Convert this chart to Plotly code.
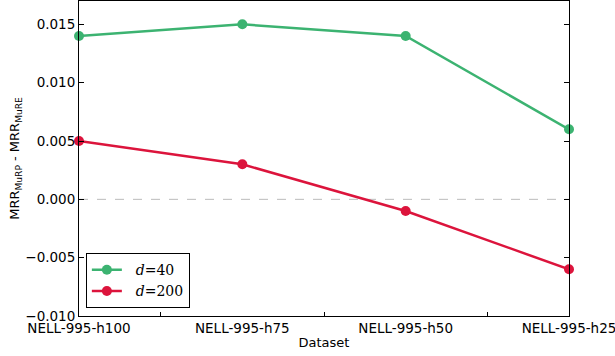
import plotly.graph_objects as go

datasets = ["NELL-995-h100", "NELL-995-h75", "NELL-995-h50", "NELL-995-h25"]
d40 = [0.014, 0.015, 0.014, 0.006]
d200 = [0.005, 0.003, -0.001, -0.006]
ytick_vals = [-0.010, -0.005, 0.000, 0.005, 0.010, 0.015]
ytick_text = ["\u22120.010", "\u22120.005", "0.000", "0.005", "0.010", "0.015"]

x = list(range(len(datasets)))
fig = go.Figure()
fig.add_trace(go.Scatter(x=x, y=d40, mode="lines+markers",
                         name="\u00a0\u00a0<i>d</i>=40",
                         line=dict(color="#3cb371", width=2.5),
                         marker=dict(size=10, color="#3cb371"), cliponaxis=False))
fig.add_trace(go.Scatter(x=x, y=d200, mode="lines+markers",
                         name="\u00a0\u00a0<i>d</i>=200",
                         line=dict(color="#dc143c", width=2.5),
                         marker=dict(size=10, color="#dc143c"), cliponaxis=False))
fig.add_hline(y=0, line=dict(color="#bbbbbb", width=1, dash="dash"), layer="below")

fig.update_layout(
    width=615, height=356,
    margin=dict(l=79, r=46, t=1, b=40),
    paper_bgcolor="white", plot_bgcolor="white",
    font=dict(family="DejaVu Sans", size=13.5, color="black"),
    showlegend=True,
    legend=dict(x=0.014, y=0.025, xanchor="left", yanchor="bottom",
                bordercolor="black", borderwidth=1, bgcolor="white",
                font=dict(family="DejaVu Serif", size=14),
                itemwidth=30, tracegroupgap=0),
    xaxis=dict(range=[0, 3], tickvals=x, ticktext=datasets, ticks="", ticklen=0,
               showgrid=False, zeroline=False, showline=True, linecolor="black",
               linewidth=1, mirror=True, automargin=False, ticklabeloverflow="allow",
               minor=dict(tickvals=[0.5, 1.5, 2.5], ticks="inside", ticklen=4,
                          tickcolor="black", showgrid=False),
               title=dict(text="Dataset", standoff=2, font=dict(size=13))),
    yaxis=dict(range=[-0.010, 0.017], tickvals=ytick_vals, ticktext=ytick_text,
               ticks="inside", ticklen=5, tickcolor="black", showgrid=False,
               zeroline=False, showline=True, linecolor="black", linewidth=1,
               mirror="ticks", automargin=False, ticklabeloverflow="allow",
               title=dict(text="MRR<sub>MuRP</sub> - MRR<sub>MuRE</sub>", standoff=2,
                          font=dict(size=13))),
)
fig.write_html("out.html", config={"displayModeBar": False},
               post_script="document.body.style.margin='0';document.body.style.overflow='hidden';")
